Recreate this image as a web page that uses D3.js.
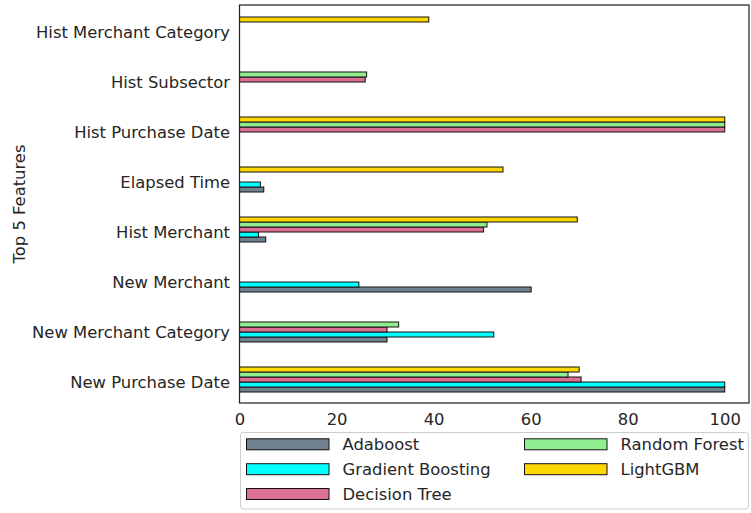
<!DOCTYPE html>
<html>
<head>
<meta charset="utf-8">
<script src="https://cdn.jsdelivr.net/npm/d3@7"></script>
<style>
  html, body { margin: 0; padding: 0; background: #fff; }
  svg { display: block; font-family: "DejaVu Sans", sans-serif; }
</style>
</head>
<body>
<svg id="chart" width="751" height="513"></svg>
<script>
// Feature names, listed top to bottom
const features = [
  "Hist Merchant Category",
  "Hist Subsector",
  "Hist Purchase Date",
  "Elapsed Time",
  "Hist Merchant",
  "New Merchant",
  "New Merchant Category",
  "New Purchase Date"
];

const models = ["Adaboost", "Gradient Boosting", "Decision Tree", "Random Forest", "LightGBM"];
const modelColors = ["#708090", "#00ffff", "#db7093", "#90ee90", "#ffd700"];

// Relative importance per model (null = feature not in that model's top list)
const adaboost         = [null, null, null, 5.0, 5.4, 60.1, 30.4, 100];
const gradientBoosting = [null, null, null, 4.3, 3.9, 24.6, 52.4, 100];
const decisionTree     = [null, 25.9, 100, null, 50.3, null, 30.4, 70.4];
const randomForest     = [null, 26.2, 100, null, 51.0, null, 32.8, 67.7];
const lightGBM         = [39.0, null, 100, 54.3, 69.6, null, null, 70.0];

const xTicks = [0, 20, 40, 60, 80, 100];

const seriesValues = [adaboost, gradientBoosting, decisionTree, randomForest, lightGBM];

const svg = d3.select("#chart");
const textColor = "#262626";
const fontSize = 16.4;

const plot = { left: 239.5, right: 749, top: 5, bottom: 403 };

const x = d3.scaleLinear().domain([0, 105]).range([plot.left, plot.right]);
const y = d3.scalePoint().domain(features).range([29.5, 379.5]);
// Within a group: LightGBM on top, Adaboost at the bottom
const inner = d3.scaleBand().domain(models.slice().reverse()).range([-12.5, 12.5]);

// Bars
models.forEach((m, si) => {
  const rows = features.map((f, i) => ({ f, v: seriesValues[si][i] })).filter(d => d.v != null);
  svg.append("g").selectAll("rect").data(rows).join("rect")
    .attr("x", x(0))
    .attr("y", d => y(d.f) + inner(m))
    .attr("width", d => x(d.v) - x(0))
    .attr("height", inner.bandwidth())
    .attr("fill", modelColors[si])
    .attr("stroke", "#111")
    .attr("stroke-width", 1);
});

// Frame
svg.append("rect")
  .attr("x", plot.left).attr("y", plot.top)
  .attr("width", plot.right - plot.left).attr("height", plot.bottom - plot.top)
  .attr("fill", "none").attr("stroke", textColor).attr("stroke-width", 1.25);

// X axis
const xAxis = svg.append("g")
  .attr("transform", `translate(0,${plot.bottom})`)
  .call(d3.axisBottom(x).tickValues(xTicks).tickSize(0).tickPadding(10).tickFormat(d3.format("d")));
xAxis.select(".domain").remove();
xAxis.selectAll("text").attr("fill", textColor).style("font-size", fontSize + "px")
  .style("font-family", "DejaVu Sans, sans-serif");

// Y axis
const yAxis = svg.append("g")
  .attr("transform", `translate(${plot.left},0)`)
  .call(d3.axisLeft(y).tickSize(0).tickPadding(9.5));
yAxis.select(".domain").remove();
yAxis.selectAll("text").attr("fill", textColor).style("font-size", fontSize + "px")
  .attr("dy", "0.47em")
  .style("font-family", "DejaVu Sans, sans-serif");

// Y axis title
svg.append("text")
  .attr("transform", `translate(25,${(plot.top + plot.bottom) / 2}) rotate(-90)`)
  .attr("text-anchor", "middle")
  .attr("fill", textColor)
  .style("font-size", fontSize + "px")
  .text("Top 5 Features");

// Legend (two columns, filled column first)
const legend = svg.append("g");
legend.append("rect")
  .attr("x", 240.5).attr("y", 432.5).attr("width", 508).attr("height", 76.5)
  .attr("rx", 3).attr("fill", "#fff").attr("fill-opacity", 0.8)
  .attr("stroke", "#cccccc").attr("stroke-width", 1);

const colX = [246, 524];
const rowY = [444.3, 469.2, 494];
models.forEach((m, i) => {
  const col = i < 3 ? 0 : 1;
  const row = i < 3 ? i : i - 3;
  const g = legend.append("g").attr("transform", `translate(${colX[col]},${rowY[row]})`);
  g.append("rect")
    .attr("x", 0.5).attr("y", -5.5).attr("width", 82.5).attr("height", 11)
    .attr("fill", modelColors[i]).attr("stroke", "#111").attr("stroke-width", 1);
  g.append("text")
    .attr("x", 96.5).attr("y", 0).attr("dy", "0.36em")
    .attr("fill", textColor)
    .style("font-size", fontSize + "px")
    .text(m);
});
</script>
</body>
</html>
